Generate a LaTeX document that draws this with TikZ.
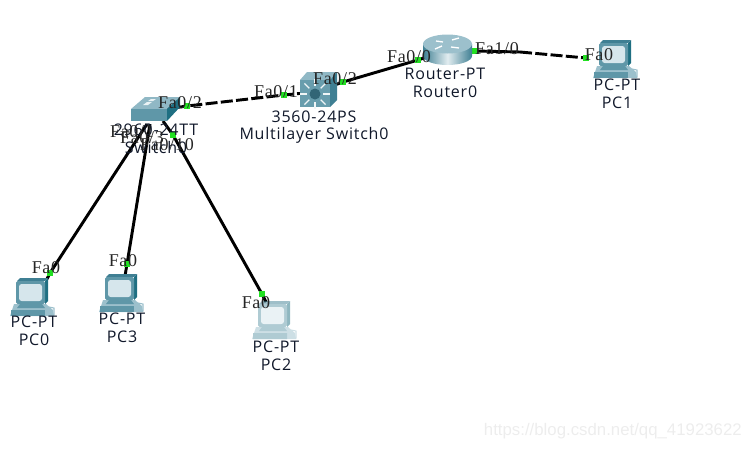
\documentclass[tikz,border=0pt]{standalone}
\usepackage{fontspec}
\newfontfamily\portfont[LetterSpace=4]{Liberation Serif}
\newfontfamily\devfont[LetterSpace=5]{Open Sans}
\setmainfont{Liberation Sans}
\definecolor{tealA}{HTML}{5F97A8}
\definecolor{tealB}{HTML}{3F7F93}
\definecolor{tealC}{HTML}{1F6F82}
\definecolor{tealL}{HTML}{9CC0CC}
\definecolor{screenC}{HTML}{D6E6EC}
\definecolor{linkgreen}{HTML}{22E022}
\definecolor{devtext}{HTML}{10182A}
\tikzset{
  x=0.75pt,y=-0.75pt,
  portdot/.style={fill=linkgreen,inner sep=0pt,minimum size=5.2pt,draw=none},
  portlabel/.style={font=\portfont\fontsize{13.5}{14}\selectfont,text=black!85,inner sep=0pt},
  devlabel/.style={font=\devfont\fontsize{12}{13}\selectfont,text=devtext,inner sep=0pt,align=center},
  hub/.style={inner sep=0pt,minimum size=1pt},
  linkline/.style={line width=2.2pt,black},
  linkdash/.style={linkline,dash pattern=on 9pt off 2.5pt},
  pcicon/.pic={
    \fill[tealL] (-2,23) -- (30,23) -- (37,29) -- (38,35) -- (-6,35) -- cycle;
    \fill[tealA] (-5,29) -- (29,29) -- (29,35) -- (-5,35) -- cycle;
    \fill[tealA] (4,23) -- (26,23) -- (29,27) -- (1,27) -- cycle;
    \fill[tealC] (29,0) -- (32,-3) -- (32,20) -- (29,23) -- cycle;
    \fill[tealB] (1,0) -- (4,-3) -- (32,-3) -- (29,0) -- cycle;
    \fill[tealA,rounded corners=1.2pt] (0,0) rectangle (29,23);
    \fill[screenC,rounded corners=2pt] (3,3) rectangle (26,20);
    \draw[tealL,line width=.8pt] (33,26) -- (38,27) -- (38,34) -- (33,34);
  },
}
\begin{document}
\begin{tikzpicture}
\useasboundingbox (0,0) rectangle (751,450);
% device anchors
\node[hub] (sw) at (160,110) {};
\node[hub] (ml) at (315,92) {};
\node[hub] (rt) at (447,50) {};
\node[hub] (pca) at (47,279) {};
\node[hub] (pcb) at (125,276) {};
\node[hub] (pcc) at (266,302) {};
\node[hub] (swa) at (147,124) {};
\node[hub] (swb) at (150,124) {};
\node[hub] (swc) at (163,121) {};
\node[hub] (bend) at (520,52) {};
% ports
\node[portdot] (p1) at (187,106) {};
\node[portdot] (p2) at (284,95) {};
\node[portdot] (p3) at (343,82) {};
\node[portdot] (p4) at (418,60) {};
\node[portdot] (p5) at (475,51) {};
\node[portdot] (p6) at (586,58) {};
\node[portdot] (p7) at (173,135) {};
\node[portdot] (p8) at (50,273) {};
\node[portdot] (p9) at (127,264) {};
\node[portdot] (p10) at (262,294) {};
% links
\draw[linkdash] (sw.center) -- (p1.center) -- (p2.center) -- (ml.center);
\draw[linkline] (ml.center) -- (p3.center) -- (p4.center) -- (rt.center);
\draw[linkline] (rt.center) -- (p5.center) -- (bend.center);
\draw[linkdash] (bend.center) -- (p6.center);
\draw[linkline] (swa.center) -- (p8.center) -- (pca.center);
\draw[linkline] (swb.center) -- (p9.center) -- (pcb.center);
\draw[linkline] (swc.center) -- (p7.center) -- (p10.center) -- (pcc.center);
\node[portdot] at (p1) {};\node[portdot] at (p2) {};\node[portdot] at (p3) {};
\node[portdot] at (p4) {};\node[portdot] at (p5) {};\node[portdot] at (p6) {};
\node[portdot] at (p7) {};\node[portdot] at (p8) {};\node[portdot] at (p9) {};
\node[portdot] at (p10) {};
% switch icon
\fill[tealL!80!tealA] (131,109) -- (145,97) -- (180,97) -- (167,109) -- cycle;
\fill[tealA] (131,109) rectangle (167,121);
\fill[tealC] (167,109) -- (180,97) -- (180,107) -- (167,121) -- cycle;
\fill[white!80!tealL] (143,105) -- (147,102) -- (152,102) -- (148,105) -- cycle;
\fill[white!80!tealL] (148,101) -- (151,99) -- (156,99) -- (153,101) -- cycle;
% multilayer icon
\fill[tealL!80!tealA] (300,80) -- (307,72) -- (337,72) -- (330,80) -- cycle;
\fill[tealA!85!tealL] (300,80) rectangle (330,107);
\fill[tealB] (330,80) -- (337,72) -- (337,100) -- (330,107) -- cycle;
\foreach \a in {0,45,...,315}
  \draw[white!85!tealL,line width=1pt] (315,94) ++(\a:8) -- ++(\a:7);
\fill[tealB!80!black] (315,94) circle[radius=5.5];
% router icon
\shade[left color=tealB,right color=tealB,middle color=white!70!tealL] (423,44) -- (423,56) arc[start angle=180,end angle=0,x radius=24.5,y radius=9] -- (472,44) -- cycle;
\fill[tealL] (447.5,44) ellipse[x radius=24.5,y radius=9.5];
\draw[white,line width=1pt] (436,41) -- (443,42) (451,47) -- (459,48) (452,40) -- (459,38) (435,49) -- (442,46);
% computers
\pic at (16,281) {pcicon};
\pic at (105,277) {pcicon};
\pic at (599,43) {pcicon};
\begin{scope}[transparency group,opacity=.5]
\pic at (258,304) {pcicon};
\end{scope}
% device labels
\node[devlabel] at (156,130) {2960-24TT};
\node[devlabel] at (156,147) {Switch0};
\node[devlabel] at (314,117) {3560-24PS};
\node[devlabel] at (314,135) {Multilayer Switch0};
\node[devlabel] at (445,74) {Router-PT};
\node[devlabel] at (445,92) {Router0};
\node[devlabel] at (617,85) {PC-PT};
\node[devlabel] at (617,103) {PC1};
\node[devlabel] at (34,322) {PC-PT};
\node[devlabel] at (34,340) {PC0};
\node[devlabel] at (122,319) {PC-PT};
\node[devlabel] at (122,337) {PC3};
\node[devlabel] at (276,347) {PC-PT};
\node[devlabel] at (276,365) {PC2};
% port labels
\node[portlabel] at (180,103) {Fa0/2};
\node[portlabel] at (276,92) {Fa0/1};
\node[portlabel] at (335,79) {Fa0/2};
\node[portlabel] at (409,57) {Fa0/0};
\node[portlabel] at (497,49) {Fa1/0};
\node[portlabel] at (599,55) {Fa0};
\node[portlabel] at (132,132) {Fa0/1};
\node[portlabel] at (142,138) {Fa0/3};
\node[portlabel] at (167,145) {Fa0/10};
\node[portlabel] at (46,268) {Fa0};
\node[portlabel] at (123,261) {Fa0};
\node[portlabel] at (256,303) {Fa0};
% watermark
\node[font=\fontsize{12.6}{13}\selectfont,text=black!7,inner sep=0pt,anchor=east] at (742,431) {https://blog.csdn.net/qq\_41923622};
\end{tikzpicture}
\end{document}
